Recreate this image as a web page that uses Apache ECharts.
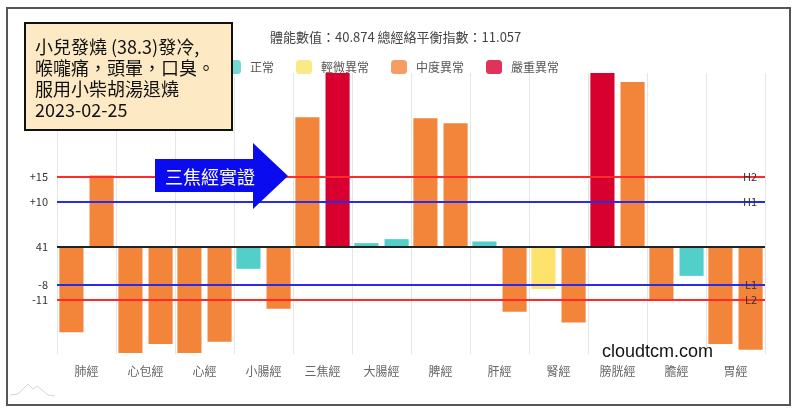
<!DOCTYPE html>
<html>
<head>
<meta charset="utf-8">
<title>經絡能量圖</title>
<script src="https://cdn.jsdelivr.net/npm/echarts@6/dist/echarts.min.js"></script>
<style>
  html, body { margin: 0; padding: 0; background: #fff; }
  #main { width: 800px; height: 415px; }
</style>
</head>
<body>
<div id="main"></div>
<script>
  // 十二經絡
  var categories = ['肺經', '心包經', '心經', '小腸經', '三焦經', '大腸經', '脾經', '肝經', '腎經', '膀胱經', '膽經', '胃經'];
  // 左右兩側 (相對於 41 的差值)
  var leftValues  = [-18.1, -22.5, -22.5, -4.6, 27.6, 0.85, 27.4, 1.2, -8.9, 37, -11.3, -20.6];
  var rightValues = [15.2, -20.6, -20.1, -13.1, 37, 1.7, 26.3, -13.7, -16.0, 35.1, -6.1, -21.8];
  // 異常等級 0 正常 / 1 輕微 / 2 中度 / 3 嚴重
  var leftLevels  = [2, 2, 2, 0, 2, 0, 2, 0, 1, 3, 2, 2];
  var rightLevels = [2, 2, 2, 2, 3, 0, 2, 2, 2, 2, 0, 2];
  var levelNames = ['正常', '輕微異常', '中度異常', '嚴重異常'];
  // 參考線
  var refValues = [15, 9.7, -8, -11.2];
  var refLeftLabels = ['+15', '+10', '-8', '-11'];
  var refRightLabels = ['H2', 'H1', 'L1', 'L2'];
  var baseLabel = '41';
  var titleText = '體能數值：40.874 總經絡平衡指數：11.057';
  var noteText = '小兒發燒 (38.3)發冷,\n喉嚨痛，頭暈，口臭。\n服用小柴胡湯退燒\n2023-02-25';

  var levelColors = ['#52cfc8', '#fde26c', '#f3853b', '#d8002f'];
  var refColors = ['#ff2a2a', '#2b2be6', '#2b2be6', '#ff2a2a'];
  var cjk = '"Noto Sans CJK TC", "Liberation Sans", sans-serif';

  function toBarData(values, levels) {
    var out = [];
    for (var i = 0; i < values.length; i++) {
      out.push({ value: values[i], itemStyle: { color: levelColors[levels[i]] } });
    }
    return out;
  }

  // 參考線 (左邊數字 + 右邊代號)
  var lines = [{
    yAxis: 0,
    lineStyle: { color: '#222', width: 2, type: 'solid' },
    label: { show: true, position: 'start', formatter: baseLabel }
  }];
  for (var i = 0; i < refValues.length; i++) {
    lines.push({
      yAxis: refValues[i],
      lineStyle: { color: refColors[i], width: 2, type: 'solid' },
      label: { show: true, position: 'start', formatter: refLeftLabels[i] }
    });
    lines.push({
      yAxis: refValues[i],
      lineStyle: { color: refColors[i], width: 2, type: 'solid' },
      label: { show: true, position: 'insideEnd', distance: 8, formatter: refRightLabels[i] }
    });
  }

  var series = [{
    name: '左',
    type: 'bar',
    barGap: '25%',
    barCategoryGap: '8%',
    data: toBarData(leftValues, leftLevels),
    markLine: {
      silent: true,
      symbol: 'none',
      z: 5,
      label: { color: '#333', fontSize: 11, distance: 9 },
      data: lines
    }
  }, {
    name: '右',
    type: 'bar',
    data: toBarData(rightValues, rightLevels)
  }];
  // 圖例用
  for (var k = 0; k < levelNames.length; k++) {
    series.push({ name: levelNames[k], type: 'scatter', data: [], itemStyle: { color: levelColors[k] } });
  }

  var myChart = echarts.init(document.getElementById('main'));
  myChart.setOption({
    animation: false,
    textStyle: { fontFamily: cjk },
    title: {
      text: titleText,
      left: 265,
      top: 26,
      textStyle: { fontSize: 13, fontWeight: 'normal', color: '#444', fontFamily: cjk }
    },
    legend: {
      data: levelNames,
      left: 220,
      top: 55,
      icon: 'roundRect',
      itemWidth: 16,
      itemHeight: 14,
      itemGap: 22,
      textStyle: { fontSize: 12, color: '#555', padding: [0, 0, 0, 4] }
    },
    grid: { left: 57, right: 35, top: 73, bottom: 61 },
    xAxis: {
      type: 'category',
      data: categories,
      axisLine: { show: false },
      axisTick: { show: false },
      splitLine: { show: true, lineStyle: { color: '#e6e6e6' } },
      axisLabel: { color: '#666', fontSize: 12, margin: 11 }
    },
    yAxis: {
      type: 'value',
      min: -22.7,
      max: 37,
      axisLabel: { show: false },
      axisLine: { show: false },
      axisTick: { show: false },
      splitLine: { show: false }
    },
    series: series,
    graphic: [
      {
        type: 'rect', z: 100,
        shape: { x: 7, y: 8, width: 783, height: 397 },
        style: { fill: 'none', stroke: '#555', lineWidth: 2 }
      },
      {
        type: 'rect', z: 100,
        shape: { x: 25, y: 23, width: 207, height: 107 },
        style: { fill: '#fdeac4', stroke: '#111', lineWidth: 2 }
      },
      {
        type: 'text', z: 101,
        style: {
          text: noteText, x: 35, y: 37,
          fontSize: 18, lineHeight: 21, fontFamily: cjk,
          fill: '#111', verticalAlign: 'top'
        }
      },
      {
        type: 'polygon', z: 100,
        shape: { points: [[155, 159], [253, 159], [253, 143], [288, 176], [253, 209], [253, 192], [155, 192]] },
        style: { fill: '#0b0bef' }
      },
      {
        type: 'text', z: 101,
        style: {
          text: '三焦經實證', x: 210, y: 177,
          fontSize: 18, fontFamily: cjk, fill: '#fff',
          align: 'center', verticalAlign: 'middle'
        }
      },
      {
        type: 'text', z: 101,
        style: {
          text: 'cloudtcm.com', x: 602, y: 352,
          fontSize: 18, fontFamily: '"Liberation Sans", Arial, sans-serif', fill: '#111',
          verticalAlign: 'middle'
        }
      },
      {
        type: 'polyline', z: 100,
        shape: { points: [[10, 395], [18, 394], [24, 388], [28, 384], [33, 389], [37, 386], [42, 390], [48, 395], [55, 396]] },
        style: { stroke: '#d5d5d5', lineWidth: 1, fill: 'none' }
      }
    ]
  });
</script>
</body>
</html>
